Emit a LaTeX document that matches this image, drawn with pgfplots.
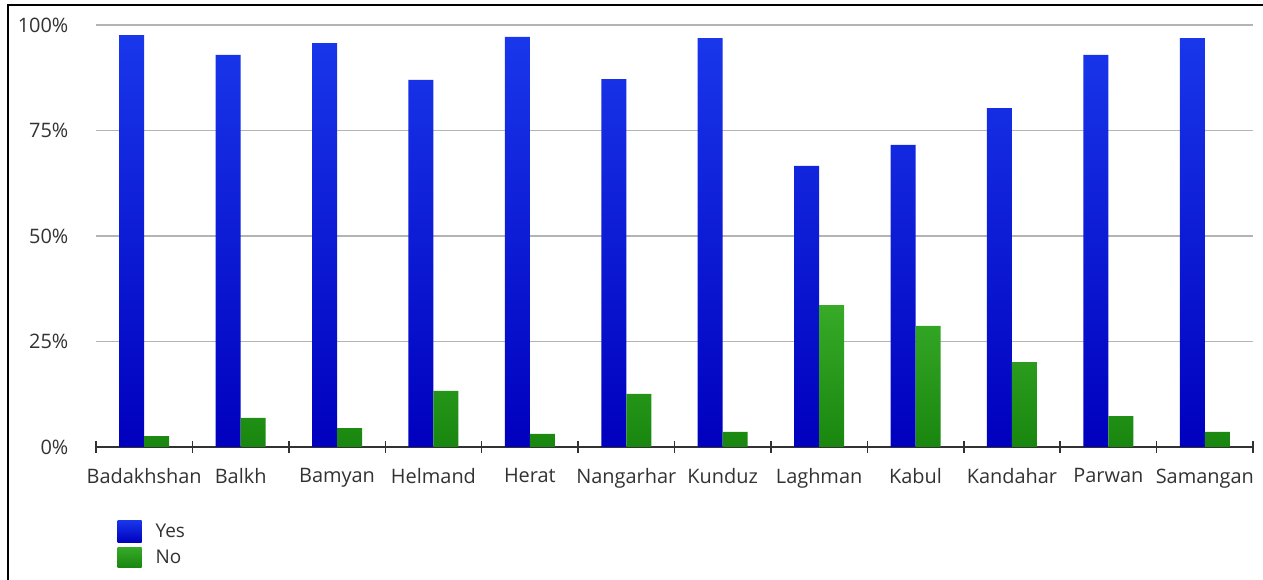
\documentclass[border=0pt]{standalone}
\usepackage{fontspec}
\setmainfont{Open Sans}
\usepackage{pgfplots}
\pgfplotsset{compat=1.18}
\definecolor{txt}{RGB}{50,50,50}
\definecolor{gridc}{RGB}{180,180,180}
\definecolor{blueT}{RGB}{25,55,235}
\definecolor{blueB}{RGB}{0,0,190}
\definecolor{greenT}{RGB}{55,170,40}
\definecolor{greenB}{RGB}{25,135,15}
\begin{document}
\begin{tikzpicture}
\path[use as bounding box] (0,0) rectangle (1263bp,580bp);
\begin{axis}[
  at={(96bp,133bp)}, anchor=south west,
  scale only axis, width=1157bp, height=422bp,
  xmin=-0.5, xmax=11.5, ymin=0, ymax=100,
  ybar=0pt, bar width=25bp,
  axis x line*=bottom, axis y line*=left,
  x axis line style={draw=txt, line width=1.5bp, -},
  y axis line style={draw=none},
  xtick={0,...,11},
  xticklabels={Badakhshan,Balkh,Bamyan,Helmand,Herat,Nangarhar,Kunduz,Laghman,Kabul,Kandahar,Parwan,Samangan},
  major x tick style={draw=none},
  minor xtick={-0.5,0.5,...,11.5},
  minor x tick style={draw=txt, line width=1.5bp},
  minor tick length=12bp, tick align=center,
  ytick={0,25,50,75,100},
  yticklabels={0\%,25\%,50\%,75\%,100\%},
  major y tick style={draw=none},
  ymajorgrids, grid style={draw=gridc, line width=1.5bp},
  tick label style={font=\fontsize{20}{22}\selectfont, text=txt},
  xticklabel style={yshift=-16bp},
  yticklabel style={xshift=-22bp},
  legend style={at={(rel axis cs:0.0185,-0.173)}, anchor=north west, draw=none,
    font=\fontsize{19}{21}\selectfont, text=txt, row sep=5bp,
    legend cell align=left, inner sep=0pt,
    /tikz/every odd column/.append style={column sep=12bp}},
]
\addplot[draw=none, top color=blueT, bottom color=blueB, bar shift=-12.5bp,
  legend image code/.code={\path[draw=none, top color=blueT, bottom color=blueB] (0bp,-11bp) rectangle (24bp,11bp);}]
  coordinates {(0,97.6) (1,92.9) (2,95.7) (3,87.0) (4,97.2) (5,87.2) (6,96.9) (7,66.6) (8,71.6) (9,80.3) (10,92.9) (11,96.9)};
\addplot[draw=none, top color=greenT, bottom color=greenB, bar shift=12.5bp,
  legend image code/.code={\path[draw=none, top color=greenT, bottom color=greenB] (0bp,-10bp) rectangle (24bp,10bp);}]
  coordinates {(0,2.6) (1,6.9) (2,4.5) (3,13.3) (4,3.1) (5,12.6) (6,3.6) (7,33.6) (8,28.7) (9,20.1) (10,7.3) (11,3.6)};
\legend{Yes,No}
\end{axis}
\draw[black, line width=2bp] (8bp,0bp) -- (8bp,575bp) -- (1263bp,575bp);
\end{tikzpicture}
\end{document}
